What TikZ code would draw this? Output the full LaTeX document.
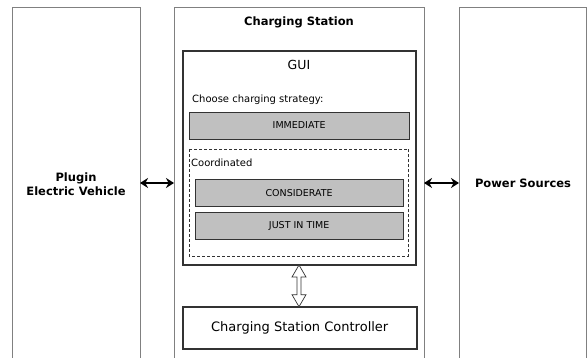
\documentclass[tikz,border=0pt]{standalone}
\usepackage{fontspec}
\setmainfont{DejaVu Sans}
\usetikzlibrary{arrows.meta,calc}
\definecolor{outer}{HTML}{808080}
\definecolor{dark}{HTML}{333333}
\definecolor{btn}{HTML}{C0C0C0}
\tikzset{
  outerbox/.style={draw=outer,line width=1pt},
  guibox/.style={draw=dark,line width=1.8pt},
  btnbox/.style={draw=dark,fill=btn,line width=0.8pt,font=\fontsize{9.5}{11}\selectfont},
  dashbox/.style={draw=dark,dashed,dash pattern=on 3pt off 2pt,line width=0.6pt},
  bigarrow/.style={line width=2pt,{Stealth[length=8pt,width=10pt]}-{Stealth[length=8pt,width=10pt]}},
  lbl/.style={font=\fontsize{11.5}{14}\selectfont\bfseries,align=center}
}
\begin{document}
\begin{tikzpicture}[x=1pt,y=-1pt]
\useasboundingbox (0,0) rectangle (587,358);
\begin{scope}
\clip (0,0) rectangle (587,358);
% outer boxes
\draw[outerbox] (12,7.5) rectangle (140,370);
\draw[outerbox] (174,7.5) rectangle (424,370);
\draw[outerbox] (459,7.5) rectangle (586,370);
\end{scope}
\coordinate (evE) at (140,183);
\coordinate (csW) at (174,183);
\coordinate (csE) at (424,183);
\coordinate (psW) at (459,183);
\node[lbl] (ev) at (76,184) {Plugin\\Electric Vehicle};
\node[lbl] (ps) at (523,183) {Power Sources};
\node[lbl] (cs) at (299,22) {Charging Station};
% GUI
\draw[guibox] (182.7,50.7) rectangle (416.3,265);
\coordinate (gui) at (299,265);
\node[font=\fontsize{12.5}{14}\selectfont] (guit) at (299,65) {GUI};
\node[anchor=west,font=\fontsize{10}{12}\selectfont,inner sep=0] (choose) at (192,100) {Choose charging strategy:};
\draw[btnbox] (189,112) rectangle (409.3,139) node[midway,draw=none,fill=none] (imm) {IMMEDIATE};
\draw[dashbox] (189.3,149) rectangle (408.7,256);
\node[anchor=west,font=\fontsize{10}{12}\selectfont,inner sep=0] (coord) at (191,163) {Coordinated};
\draw[btnbox] (195,179.3) rectangle (403.3,206) node[midway,draw=none,fill=none] (cons) {CONSIDERATE};
\draw[btnbox] (195,212.7) rectangle (403.3,239.3) node[midway,draw=none,fill=none] (jit) {JUST IN TIME};
% controller
\draw[guibox] (182.7,306.7) rectangle (416.7,349.3) node[midway,draw=none,font=\fontsize{13}{15}\selectfont] (ctrl) {Charging Station Controller};
% hollow double arrow
\draw[draw=dark,fill=white,line width=0.7pt,line join=miter] (gui) -- ++(7,12) -- ++(-5,0) -- ++(0,17.7) -- ++(5,0) -- ++(-7,12) -- ++(-7,-12) -- ++(5,0) -- ++(0,-17.7) -- ++(-5,0) -- cycle;
% arrows
\draw[bigarrow] (evE) -- (csW);
\draw[bigarrow] (csE) -- (psW);
\end{tikzpicture}
\end{document}
